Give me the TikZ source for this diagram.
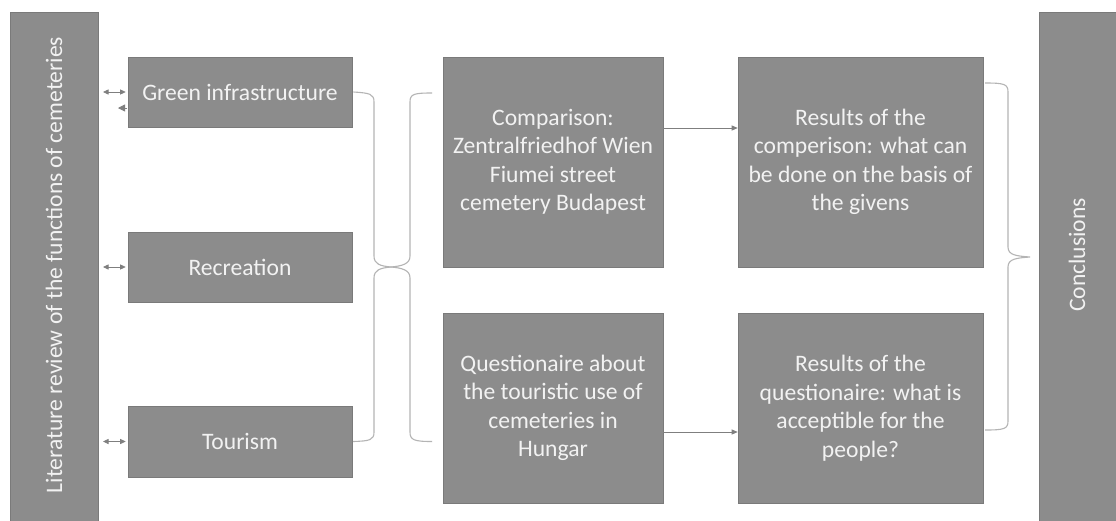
\documentclass[tikz,border=0pt]{standalone}
\usepackage{fontspec}
\setmainfont{Carlito}
\usetikzlibrary{arrows.meta}
\definecolor{boxgray}{HTML}{8C8C8C}
\definecolor{edgegray}{HTML}{7A7A7A}
\definecolor{txtgray}{HTML}{F2F2F2}
\definecolor{bracegray}{HTML}{B4B4B4}
\definecolor{arrgray}{HTML}{7F7F7F}
\begin{document}
\begin{tikzpicture}[x=1pt,y=-1pt,
  box/.style={fill=boxgray,draw=edgegray,line width=0.6pt,inner sep=0pt,
    text=txtgray,align=center,font=\fontsize{23.6}{28.5}\selectfont},
  conn/.style={draw=arrgray,line width=0.8pt,-{Triangle[length=6pt,width=5pt]}},
  dconn/.style={draw=arrgray,line width=0.8pt,{Triangle[length=5.5pt,width=5pt]}-{Triangle[length=5.5pt,width=5pt]}},
  bracel/.style={draw=bracegray,line width=1.1pt}
]
\fill[white] (0,0) rectangle (1116,520);
\useasboundingbox (0,0) rectangle (1116,520);

% side bars
\draw[fill=boxgray,draw=edgegray,line width=0.6pt] (10,12) rectangle (98,522);
\node[rotate=90,text=txtgray,font=\fontsize{23.6}{28.5}\selectfont] (littxt) at (54,265) {Literature review of the functions of cemeteries};

\draw[fill=boxgray,draw=edgegray,line width=0.6pt] (1039,12) rectangle (1118,522);
\node[rotate=90,text=txtgray,font=\fontsize{23.6}{28.5}\selectfont] (conc) at (1077,255) {Conclusions};

% left boxes
\node[box,minimum width=224pt,minimum height=70pt] (green) at (240,92) {Green infrastructure};
\node[box,minimum width=224pt,minimum height=70pt] (recr) at (240,267) {Recreation};
\node[box,minimum width=224pt,minimum height=71pt] (tour) at (240,441.5) {Tourism};

% middle boxes
\node[box,minimum width=220pt,minimum height=210pt] (comp) at (553,162) {Comparison:\\Zentralfriedhof Wien\\Fiumei street\\cemetery Budapest};
\node[box,minimum width=245pt,minimum height=210pt] (res1) at (860.5,162) {Results of the\\comperison: what can\\be done on the basis of\\the givens};
\node[box,minimum width=220pt,minimum height=190pt] (quest) at (553,408) {Questionaire about\\the touristic use of\\cemeteries in\\Hungar};
\node[box,minimum width=245pt,minimum height=190pt] (res2) at (860.5,408) {Results of the\\questionaire: what is\\acceptible for the\\people?};

% double arrows to the literature bar
\coordinate (a1) at (103,92);
\coordinate (a2) at (103,267);
\coordinate (a3) at (103,441.5);
\draw[dconn] (a1) -- ([xshift=-2pt]green.west);
\draw[dconn] (a2) -- ([xshift=-2pt]recr.west);
\draw[dconn] (a3) -- ([xshift=-2pt]tour.west);
\coordinate (g2) at (127,108);
\coordinate (g3) at (118,108);
\draw[draw=arrgray,line width=0.8pt,-{Triangle[length=7pt,width=7pt]}] (g2) -- (g3);

% arrows between middle boxes
\draw[conn] ([yshift=34pt]comp.east) -- ([yshift=34pt]res1.west);
\draw[conn] ([yshift=-24pt]quest.east) -- ([yshift=-24pt]res2.west);

% brace 1 (closing) from left boxes
\draw[bracel] (green.east) ++(1,0) .. controls (370,93) and (374,94) .. (374,102)
  -- (374,256) .. controls (374,264) and (380,266) .. (391,267)
  .. controls (380,268) and (374,270) .. (374,278)
  -- (374,432) .. controls (374,440) and (370,441) .. (353,441.5);
% brace 2 (opening) to middle boxes
\draw[bracel] (432,93) .. controls (414,93) and (410,94) .. (410,102)
  -- (410,256) .. controls (410,264) and (402,266) .. (391,267)
  .. controls (402,268) and (410,270) .. (410,278)
  -- (410,432) .. controls (410,440) and (414,441.5) .. (432,441.5);
% brace 3 to conclusions
\draw[bracel] (985,83) .. controls (1004,83) and (1008,84) .. (1008,92)
  -- (1008,247) .. controls (1008,255) and (1016,256) .. (1030,257)
  .. controls (1016,258) and (1008,259) .. (1008,267)
  -- (1008,421) .. controls (1008,429) and (1004,430) .. (985,430);
\end{tikzpicture}
\end{document}
